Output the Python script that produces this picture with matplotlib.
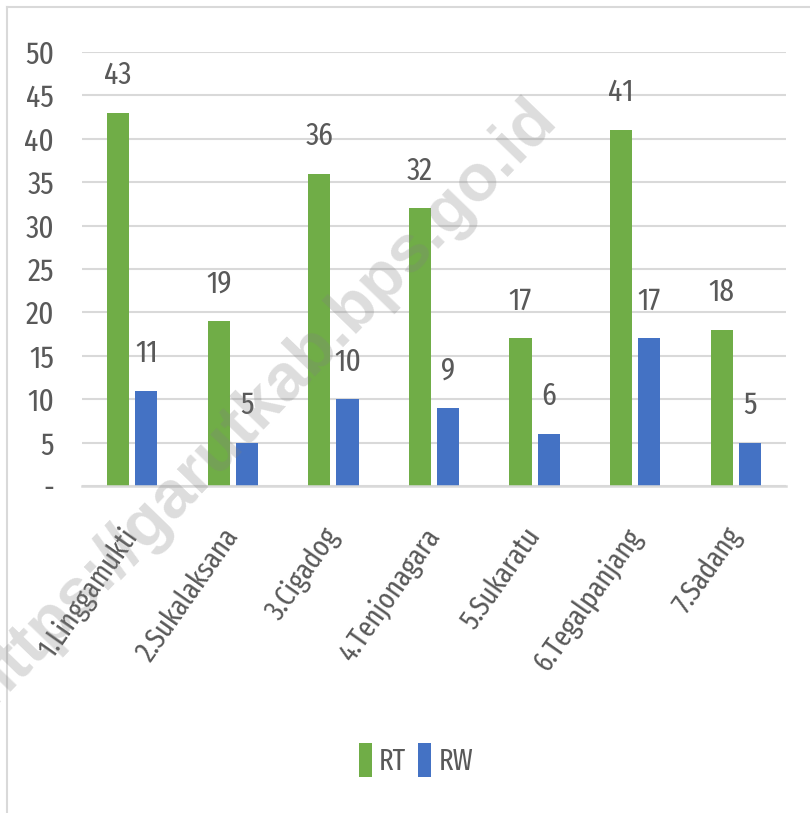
import numpy as np
import matplotlib
matplotlib.use("Agg")
import matplotlib.pyplot as plt
from matplotlib.lines import Line2D
from matplotlib.transforms import ScaledTranslation

plt.rcParams['font.family'] = ['Fira Sans Extra Condensed', 'Carlito', 'DejaVu Sans']

# ----------------------------
# data
# ----------------------------
desa = ["1.Linggamukti", "2.Sukalaksana", "3.Cigadog", "4.Tenjonagara",
        "5.Sukaratu", "6.Tegalpanjang", "7.Sadang"]
rt = [43, 19, 36, 32, 17, 41, 18]
rw = [11, 5, 10, 9, 6, 17, 5]
yticks = [0, 5, 10, 15, 20, 25, 30, 35, 40, 45, 50]
ytick_labels = ["-"] + [str(v) for v in yticks[1:]]

green = "#70AD47"
blue = "#4472C4"
txt = "#595959"
grid = "#D9D9D9"

fig = plt.figure(figsize=(8.1, 8.13), dpi=100)
ax = fig.add_axes([0.1012, 0.4022, 0.8691, 0.5338])

x = np.arange(len(desa))
w = 0.22
off = 0.14
b1 = ax.bar(x - off, rt, w, color=green, label="RT", zorder=2)
b2 = ax.bar(x + off, rw, w, color=blue, label="RW", zorder=2)

for bars in (b1, b2):
    for r in bars:
        h = r.get_height()
        ax.annotate(str(h), (r.get_x() + r.get_width() / 2, h),
                    xytext=(0, 27), textcoords="offset points",
                    ha="center", va="center", fontsize=23, color=txt)

ax.set_xlim(-0.5, len(desa) - 0.5)
ax.set_ylim(0, 50)
ax.set_yticks(yticks)
ax.set_yticklabels(ytick_labels, fontsize=23, color=txt)
ax.set_xticks(x)
ax.set_xticklabels(desa, rotation=55, ha="right", rotation_mode="anchor",
                   fontsize=21, color=txt)
ax.tick_params(axis="both", length=0)
ax.tick_params(axis="y", pad=20)
ax.tick_params(axis="x", pad=22)
# geser label kategori sedikit ke kiri-bawah
shift = ScaledTranslation(-0.12, -0.06, fig.dpi_scale_trans)
for lab in ax.get_xticklabels():
    lab.set_transform(lab.get_transform() + shift)
ax.yaxis.grid(True, color=grid, lw=1.5, zorder=0)
ax.set_axisbelow(True)
for s in ["left", "right", "top"]:
    ax.spines[s].set_visible(False)
ax.spines["bottom"].set_color(grid)
ax.spines["bottom"].set_linewidth(1.8)

fig.legend(handles=[b1, b2], labels=["RT", "RW"], loc="center",
           bbox_to_anchor=(0.5136, 0.065), ncol=2, frameon=False,
           fontsize=21, handlelength=0.45, handleheight=1.4,
           handletextpad=0.25, columnspacing=0.4, labelcolor=txt)

# watermark
fig.text(262 / 810, 1 - 402 / 813, "https://garutkab.bps.go.id",
         rotation=46, rotation_mode="anchor", ha="center", va="center",
         fontsize=48, fontweight="bold", family="Liberation Sans",
         color="#808080", alpha=0.27)

# outer border (left + top)
fig.add_artist(Line2D([7 / 810, 7 / 810], [0, 1 - 7 / 813], color=grid, lw=1.5))
fig.add_artist(Line2D([7 / 810, 1], [1 - 7 / 813, 1 - 7 / 813], color=grid, lw=1.5))

fig.savefig("out.png", dpi=100)
